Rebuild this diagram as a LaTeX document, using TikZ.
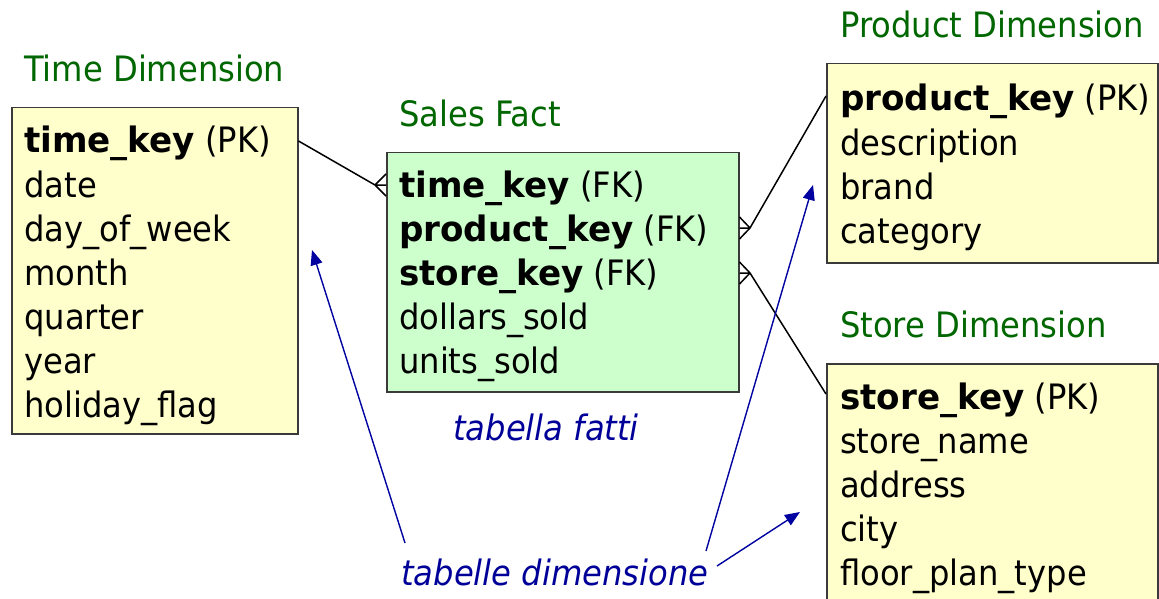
\documentclass[tikz,border=0pt]{standalone}
\usepackage{fontspec}
\setmainfont{DejaVu Sans}[FakeStretch=0.92, BoldFeatures={FakeStretch=0.975}]
\usetikzlibrary{arrows.meta,calc}
\definecolor{tablefill}{HTML}{FFFFCC}
\definecolor{factfill}{HTML}{CCFFCC}
\definecolor{tableedge}{HTML}{3A3A3A}
\definecolor{titlegreen}{HTML}{006600}
\definecolor{notecol}{HTML}{000099}
\definecolor{arrowcol}{HTML}{0000A0}
\begin{document}
\begin{tikzpicture}[x=1pt,y=-1pt,
  dimbox/.style={draw=tableedge, fill=tablefill, line width=1.5pt, anchor=north west, inner sep=0pt},
  factbox/.style={dimbox, fill=factfill},
  row/.style={anchor=base west, inner sep=0pt, font=\fontsize{35}{44}\selectfont},
  title/.style={row, text=titlegreen},
  note/.style={anchor=base west, inner sep=0pt, text=notecol, font=\fontsize{35}{44}\selectfont\itshape},
  rel/.style={line width=1.5pt, black},
  pointer/.style={line width=1.4pt, arrowcol, -{Triangle[length=15pt,width=12pt]}}]
\useasboundingbox (0,0) rectangle (1159,599);

% tables
\node[dimbox, minimum width=286, minimum height=326] (timebox) at (11,107) {};
\node[factbox, minimum width=352, minimum height=239] (salesbox) at (386,152) {};
\node[dimbox, minimum width=331, minimum height=199] (prodbox) at (826,63) {};
\node[dimbox, minimum width=331, minimum height=280] (storebox) at (826,363) {};

% table titles
\node[title] (timetitle) at (24,82) {Time Dimension};
\node[title] (salestitle) at (399,127) {Sales Fact};
\node[title] (prodtitle) at (840,38) {Product Dimension};
\node[title] (storetitle) at (840,337) {Store Dimension};

% table rows
\foreach \txt [count=\i] in {{\textbf{time\_key} (PK)}, date, day\_of\_week, month, quarter, year, holiday\_flag}
  \node[row] (time-\i) at (24,{153+44*(\i-1)}) {\txt};
\foreach \txt [count=\i] in {{\textbf{time\_key} (FK)}, {\textbf{product\_key} (FK)}, {\textbf{store\_key} (FK)}, dollars\_sold, units\_sold}
  \node[row] (sales-\i) at (399,{197+44*(\i-1)}) {\txt};
\foreach \txt [count=\i] in {{\textbf{product\_key} (PK)}, description, brand, category}
  \node[row] (prod-\i) at (840,{111+44*(\i-1)}) {\txt};
\foreach \txt [count=\i] in {{\textbf{store\_key} (PK)}, store\_name, address, city, floor\_plan\_type}
  \node[row] (store-\i) at (840,{409+44*(\i-1)}) {\txt};

% notes
\node[note] (factnote) at (453,440) {tabella fatti};
\node[note] (dimnote) at (401,585) {tabelle dimensione};

% relationship ends
\coordinate (timeend) at ($(timebox.north east)+(0,34)$);
\coordinate (prodend) at ($(prodbox.north west)+(0,33)$);
\coordinate (storeend) at ($(storebox.north west)+(0,31)$);
\coordinate (crowT) at (375,185);
\coordinate (crowP) at (750,228);
\coordinate (crowS) at (750,273);

\draw[rel] (timeend) -- (crowT);
\draw[rel] (crowT) -- (crowT -| salesbox.west) (crowT) -- ($(crowT -| salesbox.west)+(0,-11)$) (crowT) -- ($(crowT -| salesbox.west)+(0,11)$);
\draw[rel] (prodend) -- (crowP);
\draw[rel] (crowP) -- (crowP -| salesbox.east) (crowP) -- ($(crowP -| salesbox.east)+(0,-11)$) (crowP) -- ($(crowP -| salesbox.east)+(0,11)$);
\draw[rel] (storeend) -- (crowS);
\draw[rel] (crowS) -- (crowS -| salesbox.east) (crowS) -- ($(crowS -| salesbox.east)+(0,-11)$) (crowS) -- ($(crowS -| salesbox.east)+(0,11)$);

% pointers from the note to the dimension tables
\coordinate (srcA) at (405,543);
\coordinate (srcB) at (706,551);
\coordinate (srcC) at (717,566);
\coordinate (tipA) at (312,250);
\coordinate (tipB) at (813,185);
\coordinate (tipC) at (800,512);
\draw[pointer] (srcA) -- (tipA);
\draw[pointer] (srcB) -- (tipB);
\draw[pointer] (srcC) -- (tipC);
\end{tikzpicture}
\end{document}
